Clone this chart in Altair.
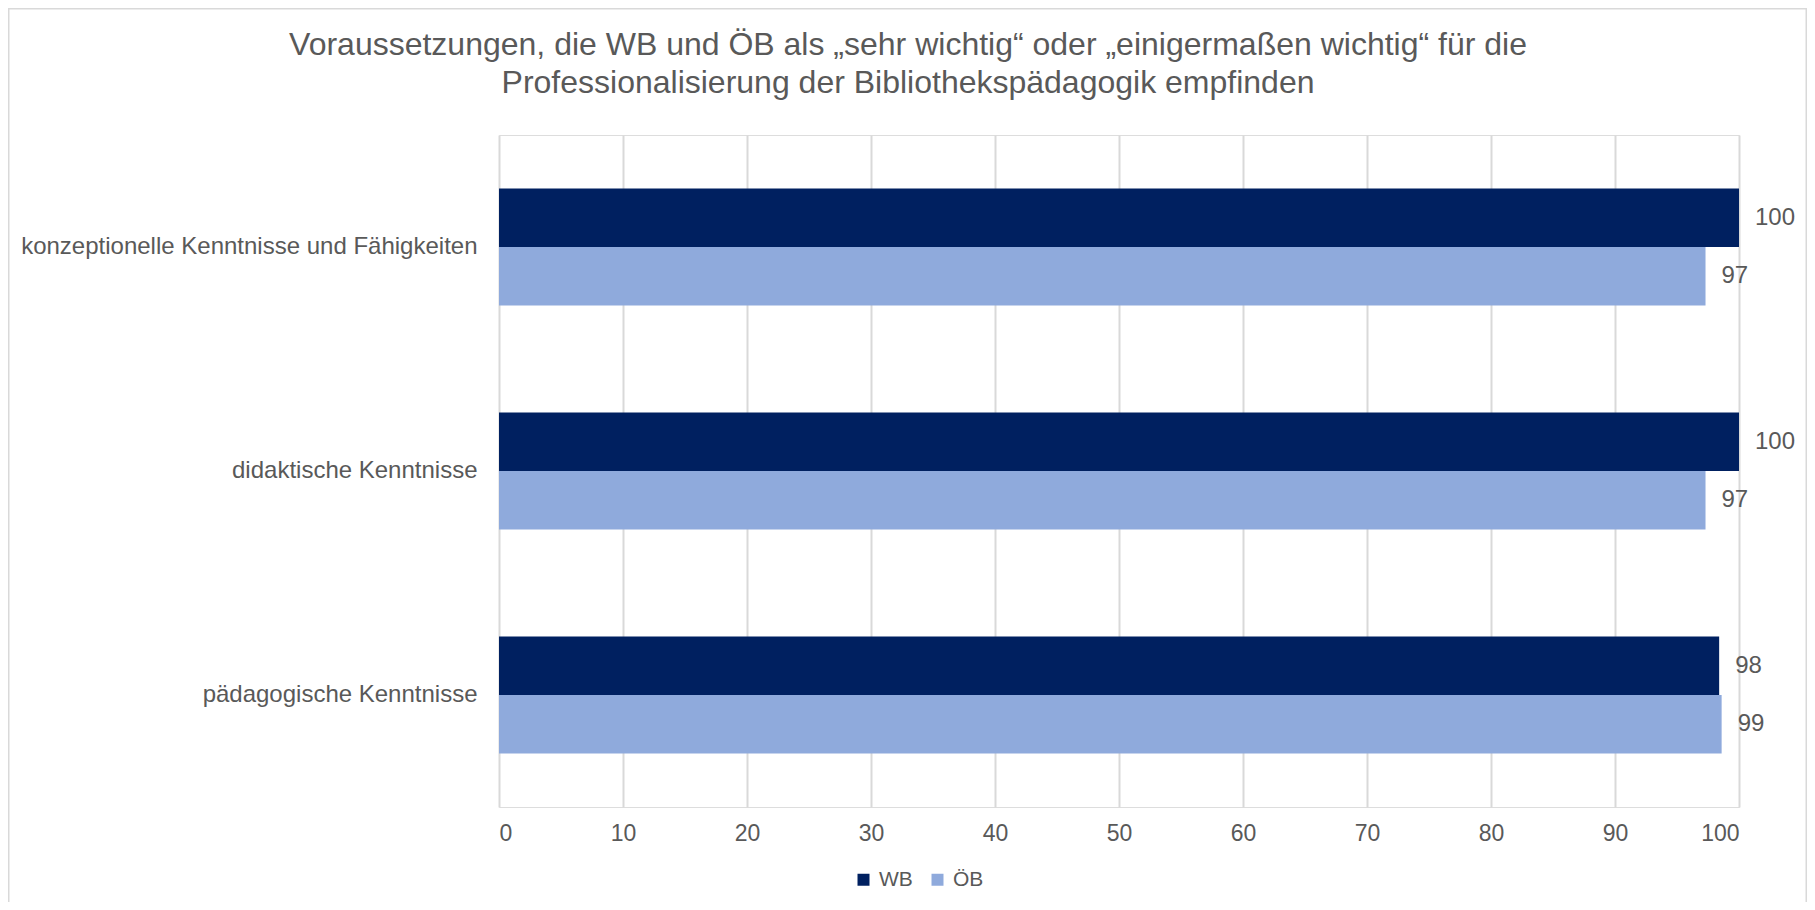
import altair as alt
import pandas as pd

categories = [
    "konzeptionelle Kenntnisse und Fähigkeiten",
    "didaktische Kenntnisse",
    "pädagogische Kenntnisse",
]
series = ["WB", "ÖB"]
wb_values = [100, 100, 98.4]
oeb_values = [97.3, 97.3, 98.6]
x_ticks = [0, 10, 20, 30, 40, 50, 60, 70, 80, 90, 100]
colors = ["#002060", "#8FAADC"]
title_lines = [
    "Voraussetzungen, die WB und ÖB als „sehr wichtig“ oder „einigermaßen wichtig“ für die",
    "Professionalisierung der Bibliothekspädagogik empfinden",
]

rows = []
for c, w, o in zip(categories, wb_values, oeb_values):
    rows.append({"Kategorie": c, "Serie": "WB", "Wert": w})
    rows.append({"Kategorie": c, "Serie": "ÖB", "Wert": o})
df = pd.DataFrame(rows)

FONT = "Liberation Sans"
TXT = "#595959"

x_enc = alt.X(
    "Wert:Q",
    scale=alt.Scale(domain=[0, 100], nice=False),
    axis=alt.Axis(
        values=x_ticks, title=None, grid=True, gridColor="#d9d9d9", gridWidth=2,
        domain=False, ticks=False, labelFontSize=23, labelColor=TXT, labelFont=FONT,
        labelPadding=15,
    ),
)
y_enc = alt.Y(
    "Kategorie:N",
    sort=categories,
    scale=alt.Scale(paddingInner=0.478, paddingOuter=0.239),
    axis=alt.Axis(
        title=None, grid=False, domain=False, ticks=False, labelFontSize=24,
        labelColor=TXT, labelFont=FONT, labelPadding=22, labelLimit=600,
    ),
)
yoff = alt.YOffset("Serie:N", sort=series, scale=alt.Scale(paddingInner=0, paddingOuter=0))

bars = alt.Chart(df).mark_bar(size=58.5).encode(
    x=x_enc,
    y=y_enc,
    yOffset=yoff,
    color=alt.Color(
        "Serie:N",
        sort=series,
        scale=alt.Scale(domain=series, range=colors),
        legend=alt.Legend(
            title=None, orient="none", legendX=354, legendY=734, direction="horizontal",
            symbolType="square", symbolSize=144, symbolStrokeWidth=0,
            labelFontSize=21, labelColor=TXT, labelFont=FONT, labelOffset=5,
            columnPadding=14,
        ),
    ),
)

labels = alt.Chart(df).mark_text(
    align="left", baseline="middle", dx=16, fontSize=24, color=TXT, font=FONT
).encode(
    x="Wert:Q",
    y=alt.Y("Kategorie:N", sort=categories),
    yOffset=alt.YOffset("Serie:N", sort=series),
    text=alt.Text("Wert:Q", format=".0f"),
)

border = alt.Chart(alt.Data(values=[{"a": 1}])).mark_rect(
    filled=False, stroke="#d9d9d9", strokeWidth=1.5, fillOpacity=0, strokeOpacity=1
).encode(
    x=alt.value(-490.25), x2=alt.value(1307.25), y=alt.value(-126.25), y2=alt.value(850)
)

chart = alt.layer(border, bars, labels).properties(
    width=1240,
    height=672,
    padding={"left": 491, "top": 127, "right": 68, "bottom": 95},
    autosize=alt.AutoSizeParams(type="none"),
    title=alt.TitleParams(
        text=title_lines, fontSize=32, font=FONT, color=TXT, fontWeight="normal",
        anchor="middle", frame="group", dx=-211, offset=0, dy=92, lineHeight=38,
    ),
).configure_view(stroke=None).configure(background="white")

chart.save("out.html", embed_options={"renderer": "svg", "actions": False})
